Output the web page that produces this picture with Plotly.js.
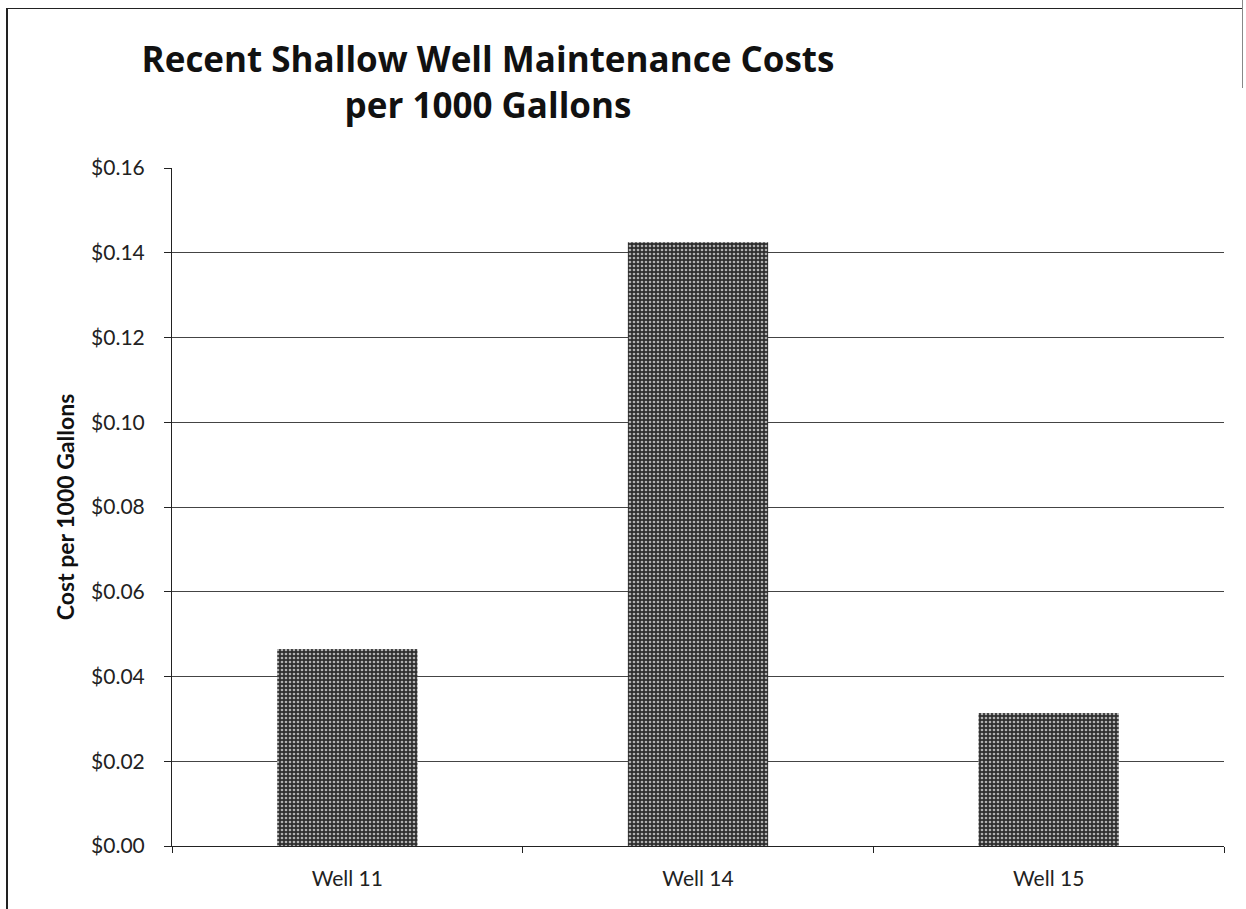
<!DOCTYPE html>
<html>
<head>
<meta charset="utf-8">
<script src="https://cdn.plot.ly/plotly-3.0.1.min.js"></script>
<style>
  html, body { margin: 0; padding: 0; background: #fff; }
  #wrap { position: relative; width: 1246px; height: 909px; }
  #chart { position: absolute; left: 0; top: 0; width: 1246px; height: 909px; }
  .edge { position: absolute; background: #222; pointer-events: none; }
</style>
</head>
<body>
<div id="wrap">
  <div id="chart"></div>
  <div class="edge" style="left:6px; top:8px; width:1237px; height:1px;"></div>
  <div class="edge" style="left:6px; top:8px; width:2px; height:901px;"></div>
  <div class="edge" style="left:1242px; top:0px; width:1px; height:88px; background:#888;"></div>
</div>
<script>
const categories = ['Well 11', 'Well 14', 'Well 15'];
const costPer1000Gallons = [0.0465, 0.1425, 0.0314];
const chartTitle = 'Recent Shallow Well Maintenance Costs<br>per 1000 Gallons';
const yAxisTitle = 'Cost per 1000 Gallons';

const trace = {
  type: 'bar',
  x: categories,
  y: costPer1000Gallons,
  marker: {
    color: '#3c3c3c',
    line: { width: 0 },
    pattern: { shape: '.', bgcolor: '#2e2e2e', fgcolor: '#b0b0b0', size: 4, solidity: 0.35, fillmode: 'replace' }
  },
  hoverinfo: 'skip'
};

const layout = {
  width: 1246,
  height: 909,
  margin: { l: 172, r: 22, t: 168, b: 63 },
  paper_bgcolor: 'rgba(0,0,0,0)',
  plot_bgcolor: '#ffffff',
  font: { family: 'Lato, "Open Sans", sans-serif', color: '#222' },
  showlegend: false,
  bargap: 0.6,
  title: {
    text: chartTitle,
    font: { family: '"Open Sans", Lato, sans-serif', size: 35, color: '#111', weight: 'bold' },
    x: 488 / 1246,
    xref: 'container',
    xanchor: 'center',
    y: 1 - 72 / 909,
    yref: 'container',
    yanchor: 'top'
  },
  xaxis: {
    type: 'category',
    showline: true,
    linecolor: '#222',
    linewidth: 1,
    ticks: 'outside',
    tickson: 'boundaries',
    ticklen: 6,
    tickcolor: '#222',
    showgrid: false,
    tickfont: { size: 21, color: '#222' },
    ticklabelstandoff: 14,
    fixedrange: true
  },
  yaxis: {
    range: [0, 0.16],
    dtick: 0.02,
    tick0: 0,
    tickprefix: '$',
    tickformat: '.2f',
    showline: true,
    linecolor: '#222',
    linewidth: 1,
    ticks: 'outside',
    ticklen: 7,
    tickcolor: '#222',
    showgrid: true,
    gridcolor: '#444',
    gridwidth: 1,
    zeroline: false,
    tickfont: { size: 21, color: '#222' },
    ticklabelstandoff: 15,
    title: {
      text: yAxisTitle,
      font: { size: 23, color: '#111', weight: 'bold' },
      standoff: 10
    },
    fixedrange: true
  }
};

Plotly.newPlot('chart', [trace], layout, { displayModeBar: false, staticPlot: true });
</script>
</body>
</html>
